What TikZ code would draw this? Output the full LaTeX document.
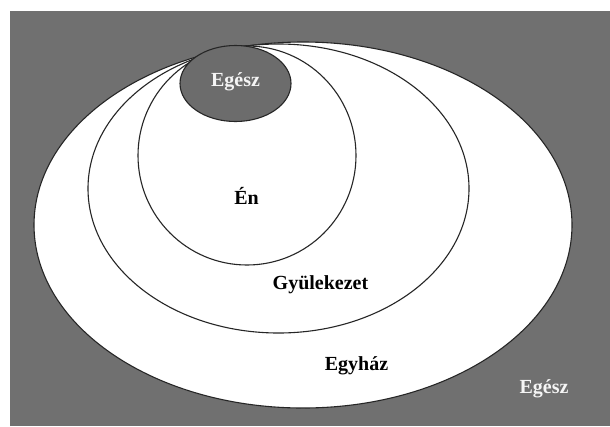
\documentclass[tikz,border=0pt]{standalone}
\usepackage{fontspec}
\setmainfont{Liberation Serif}
\definecolor{bggray}{RGB}{112,112,112}
\definecolor{eggray}{RGB}{108,108,108}
\begin{document}
\begin{tikzpicture}[x=1pt,y=-1pt,
  ring/.style={draw=black!85,line width=1.1pt,fill=white},
  lbl/.style={font=\fontsize{20}{22}\selectfont\bfseries,inner sep=0pt},
  wlbl/.style={lbl,text=white!92!gray}]
\useasboundingbox (0,0) rectangle (610,426);
\fill[white] (0,0) rectangle (610,426);
\fill[bggray] (10,11) rectangle (610,426);
\draw[ring] (303,225) ellipse [x radius=269,y radius=183];
\draw[ring] (278.5,188.5) ellipse [x radius=190.5,y radius=144.5];
\draw[ring] (247,155.5) ellipse [x radius=109,y radius=109.5];
\draw[ring,fill=eggray] (235.5,83.5) ellipse [x radius=55.5,y radius=38];
\node[wlbl] (egesz1) at (235.5,82) {Egész};
\node[lbl] (en) at (246.5,196) {Én};
\node[lbl] (gyul) at (320.5,285) {Gyülekezet};
\node[lbl] (egyhaz) at (356.5,366) {Egyház};
\node[wlbl] (egesz2) at (544,389) {Egész};
\end{tikzpicture}
\end{document}
